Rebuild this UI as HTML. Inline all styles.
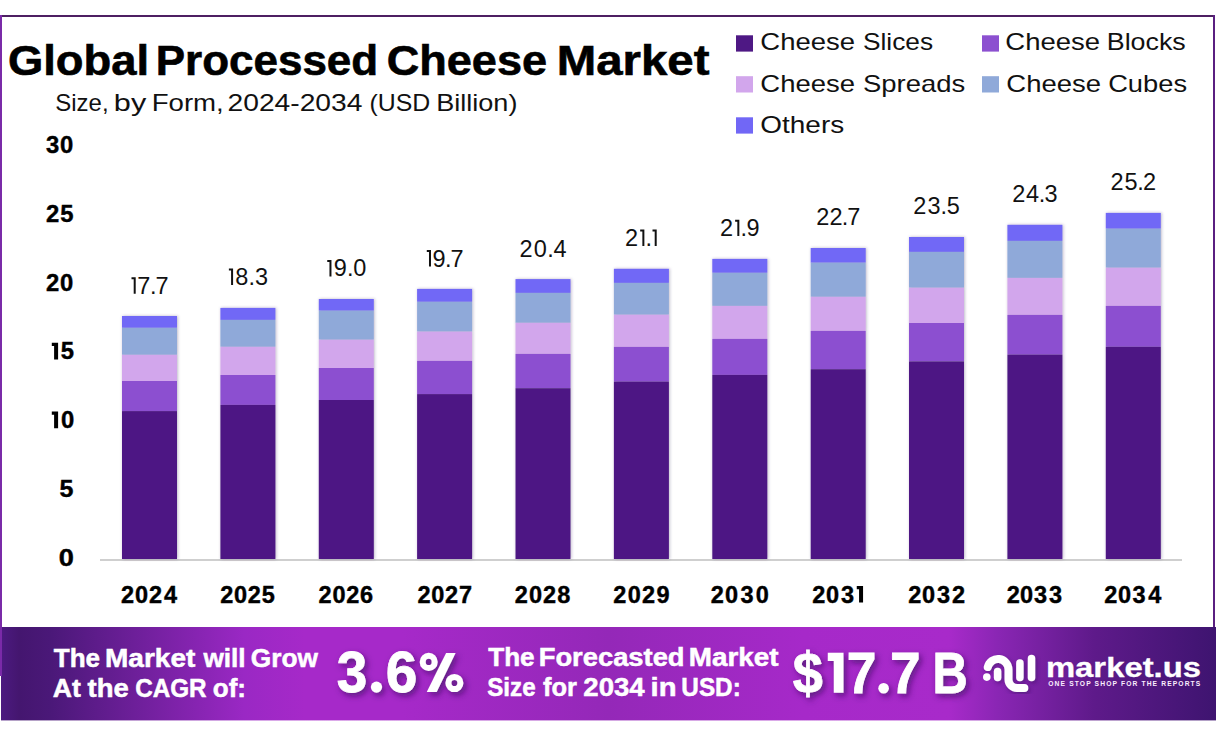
<!DOCTYPE html>
<html><head><meta charset="utf-8">
<style>
html,body{margin:0;padding:0;background:#fff;width:1216px;height:739px;overflow:hidden}
svg{display:block}
text{font-family:"Liberation Sans",sans-serif}
</style></head>
<body>
<svg width="1216" height="739" viewBox="0 0 1216 739">
<defs>
<linearGradient id="bg" x1="0" y1="0" x2="1" y2="0">
<stop offset="0" stop-color="#4c1a80"/>
<stop offset="0.015" stop-color="#44166f"/>
<stop offset="0.04" stop-color="#4a1878"/>
<stop offset="0.2" stop-color="#9a28c4"/>
<stop offset="0.25" stop-color="#a629c9"/>
<stop offset="0.33" stop-color="#a629c9"/>
<stop offset="0.5" stop-color="#9428b8"/>
<stop offset="0.66" stop-color="#a629c9"/>
<stop offset="0.78" stop-color="#a82aca"/>
<stop offset="0.82" stop-color="#8a26b4"/>
<stop offset="0.9" stop-color="#5e1a8a"/>
<stop offset="1" stop-color="#3e1470"/>
</linearGradient>
<filter id="sh" x="-5%" y="-20%" width="110%" height="150%">
<feDropShadow dx="2.5" dy="3" stdDeviation="3" flood-color="#3a0860" flood-opacity="0.7"/>
</filter>
<filter id="bsh" x="-20%" y="-5%" width="140%" height="110%">
<feDropShadow dx="0.8" dy="0" stdDeviation="1.8" flood-color="#3a2a60" flood-opacity="0.35"/>
</filter>
<filter id="sh2" x="-20%" y="-20%" width="140%" height="140%">
<feDropShadow dx="1.5" dy="2" stdDeviation="2" flood-color="#300858" flood-opacity="0.5"/>
</filter>
</defs>
<rect x="0" y="0" width="1216" height="739" fill="#ffffff"/>
<rect x="0" y="15" width="1215" height="2" fill="#4d1f62"/>
<rect x="0" y="15" width="2" height="661" fill="#7a2aa8"/>
<rect x="1213" y="15" width="2" height="612" fill="#5a1f80"/>
<rect x="100" y="559" width="1082" height="2" fill="#cfcfcf"/>
<rect x="1" y="627" width="1215" height="93.4" fill="url(#bg)"/>
<rect x="0" y="627" width="2" height="49" fill="#7a2aa8"/>
<rect x="736" y="35.3" width="17" height="16.3" fill="#4e1884"/>
<rect x="982" y="35.3" width="17" height="16.3" fill="#8c50d0"/>
<rect x="736" y="76.2" width="17" height="16.3" fill="#d2a6ec"/>
<rect x="982" y="76.2" width="17" height="16.3" fill="#8fa9d9"/>
<rect x="736" y="117.3" width="17" height="16.3" fill="#7167f6"/>
<g filter="url(#bsh)">
<rect x="122.0" y="316.0" width="55.0" height="11.8" fill="#7167f6"/>
<rect x="122.0" y="327.8" width="55.0" height="27.0" fill="#8fa9d9"/>
<rect x="122.0" y="354.8" width="55.0" height="26.2" fill="#d2a6ec"/>
<rect x="122.0" y="381.0" width="55.0" height="30.1" fill="#8c50d0"/>
<rect x="122.0" y="411.1" width="55.0" height="147.9" fill="#4e1884"/>
<rect x="220.4" y="307.9" width="55.0" height="12.0" fill="#7167f6"/>
<rect x="220.4" y="319.9" width="55.0" height="26.9" fill="#8fa9d9"/>
<rect x="220.4" y="346.8" width="55.0" height="28.2" fill="#d2a6ec"/>
<rect x="220.4" y="375.0" width="55.0" height="29.9" fill="#8c50d0"/>
<rect x="220.4" y="404.9" width="55.0" height="154.1" fill="#4e1884"/>
<rect x="318.8" y="299.0" width="55.0" height="11.7" fill="#7167f6"/>
<rect x="318.8" y="310.7" width="55.0" height="29.0" fill="#8fa9d9"/>
<rect x="318.8" y="339.7" width="55.0" height="28.3" fill="#d2a6ec"/>
<rect x="318.8" y="368.0" width="55.0" height="32.0" fill="#8c50d0"/>
<rect x="318.8" y="400.0" width="55.0" height="159.0" fill="#4e1884"/>
<rect x="417.1" y="288.9" width="55.0" height="12.9" fill="#7167f6"/>
<rect x="417.1" y="301.8" width="55.0" height="29.8" fill="#8fa9d9"/>
<rect x="417.1" y="331.6" width="55.0" height="29.3" fill="#d2a6ec"/>
<rect x="417.1" y="360.9" width="55.0" height="33.2" fill="#8c50d0"/>
<rect x="417.1" y="394.1" width="55.0" height="164.9" fill="#4e1884"/>
<rect x="515.5" y="279.1" width="55.0" height="13.8" fill="#7167f6"/>
<rect x="515.5" y="292.9" width="55.0" height="29.9" fill="#8fa9d9"/>
<rect x="515.5" y="322.8" width="55.0" height="31.1" fill="#d2a6ec"/>
<rect x="515.5" y="353.9" width="55.0" height="34.3" fill="#8c50d0"/>
<rect x="515.5" y="388.2" width="55.0" height="170.8" fill="#4e1884"/>
<rect x="613.9" y="268.8" width="55.0" height="14.1" fill="#7167f6"/>
<rect x="613.9" y="282.9" width="55.0" height="31.8" fill="#8fa9d9"/>
<rect x="613.9" y="314.7" width="55.0" height="32.2" fill="#d2a6ec"/>
<rect x="613.9" y="346.9" width="55.0" height="34.7" fill="#8c50d0"/>
<rect x="613.9" y="381.6" width="55.0" height="177.4" fill="#4e1884"/>
<rect x="712.3" y="258.9" width="55.0" height="13.9" fill="#7167f6"/>
<rect x="712.3" y="272.8" width="55.0" height="33.1" fill="#8fa9d9"/>
<rect x="712.3" y="305.9" width="55.0" height="33.0" fill="#d2a6ec"/>
<rect x="712.3" y="338.9" width="55.0" height="36.0" fill="#8c50d0"/>
<rect x="712.3" y="374.9" width="55.0" height="184.1" fill="#4e1884"/>
<rect x="810.7" y="248.0" width="55.0" height="14.7" fill="#7167f6"/>
<rect x="810.7" y="262.7" width="55.0" height="34.1" fill="#8fa9d9"/>
<rect x="810.7" y="296.8" width="55.0" height="34.1" fill="#d2a6ec"/>
<rect x="810.7" y="330.9" width="55.0" height="38.3" fill="#8c50d0"/>
<rect x="810.7" y="369.2" width="55.0" height="189.8" fill="#4e1884"/>
<rect x="909.0" y="237.0" width="55.0" height="14.9" fill="#7167f6"/>
<rect x="909.0" y="251.9" width="55.0" height="35.8" fill="#8fa9d9"/>
<rect x="909.0" y="287.7" width="55.0" height="35.3" fill="#d2a6ec"/>
<rect x="909.0" y="323.0" width="55.0" height="38.4" fill="#8c50d0"/>
<rect x="909.0" y="361.4" width="55.0" height="197.6" fill="#4e1884"/>
<rect x="1007.4" y="224.8" width="55.0" height="16.1" fill="#7167f6"/>
<rect x="1007.4" y="240.9" width="55.0" height="37.0" fill="#8fa9d9"/>
<rect x="1007.4" y="277.9" width="55.0" height="37.0" fill="#d2a6ec"/>
<rect x="1007.4" y="314.9" width="55.0" height="39.7" fill="#8c50d0"/>
<rect x="1007.4" y="354.6" width="55.0" height="204.4" fill="#4e1884"/>
<rect x="1105.8" y="212.9" width="55.0" height="15.8" fill="#7167f6"/>
<rect x="1105.8" y="228.7" width="55.0" height="39.0" fill="#8fa9d9"/>
<rect x="1105.8" y="267.7" width="55.0" height="38.2" fill="#d2a6ec"/>
<rect x="1105.8" y="305.9" width="55.0" height="40.9" fill="#8c50d0"/>
<rect x="1105.8" y="346.8" width="55.0" height="212.2" fill="#4e1884"/>
</g>
<g fill="none" stroke="#fff" stroke-linecap="round" stroke-width="7.5" filter="url(#sh2)">
<path d="M987.8 667 A10.5 10.5 0 0 1 1008.5 669.5 L1008.5 679.5 A8.5 8.5 0 0 0 1017 688 L1024.3 688" stroke-width="8"/>
<line x1="997.6" y1="671.5" x2="997.6" y2="677.5"/>
<line x1="1019.9" y1="663" x2="1019.9" y2="677.5"/>
<line x1="1031.5" y1="658.5" x2="1031.5" y2="677.5"/>
</g>
<circle cx="986.8" cy="677.1" r="3.8" fill="#fff"/>
<text x="1048.3" y="686.4" font-size="6.7" font-weight="bold" fill="#fbeefe" textLength="152" lengthAdjust="spacing">ONE STOP SHOP FOR THE REPORTS</text>
<text x="7.92" y="75.1" font-size="42" font-weight="bold" fill="#000" stroke="#000" stroke-width="0.6" textLength="141.18" lengthAdjust="spacingAndGlyphs">Global</text>
<text x="155.71" y="75.1" font-size="42" font-weight="bold" fill="#000" stroke="#000" stroke-width="0.6" textLength="222.48" lengthAdjust="spacingAndGlyphs">Processed</text>
<text x="386.73" y="75.1" font-size="42" font-weight="bold" fill="#000" stroke="#000" stroke-width="0.6" textLength="160.30" lengthAdjust="spacingAndGlyphs">Cheese</text>
<text x="556.74" y="75.1" font-size="42" font-weight="bold" fill="#000" stroke="#000" stroke-width="0.6" textLength="152.71" lengthAdjust="spacingAndGlyphs">Market</text>
<text x="55.31" y="110.8" font-size="24.3" font-weight="normal" fill="#111" textLength="53.27" lengthAdjust="spacingAndGlyphs">Size,</text>
<text x="113.88" y="110.8" font-size="24.3" font-weight="normal" fill="#111" textLength="32.37" lengthAdjust="spacingAndGlyphs">by</text>
<text x="151.73" y="110.8" font-size="24.3" font-weight="normal" fill="#111" textLength="72.04" lengthAdjust="spacingAndGlyphs">Form,</text>
<text x="227.54" y="110.8" font-size="24.3" font-weight="normal" fill="#111" textLength="134.90" lengthAdjust="spacingAndGlyphs">2024-2034</text>
<text x="369.45" y="110.8" font-size="24.3" font-weight="normal" fill="#111" textLength="60.77" lengthAdjust="spacingAndGlyphs">(USD</text>
<text x="436.17" y="110.8" font-size="24.3" font-weight="normal" fill="#111" textLength="81.27" lengthAdjust="spacingAndGlyphs">Billion)</text>
<text x="760.36" y="50" font-size="24" font-weight="normal" fill="#111" textLength="94.68" lengthAdjust="spacingAndGlyphs">Cheese</text>
<text x="863.00" y="50" font-size="24" font-weight="normal" fill="#111" textLength="70.12" lengthAdjust="spacingAndGlyphs">Slices</text>
<text x="1005.36" y="50" font-size="24" font-weight="normal" fill="#111" textLength="94.68" lengthAdjust="spacingAndGlyphs">Cheese</text>
<text x="1106.76" y="50" font-size="24" font-weight="normal" fill="#111" textLength="79.00" lengthAdjust="spacingAndGlyphs">Blocks</text>
<text x="760.36" y="91.6" font-size="24" font-weight="normal" fill="#111" textLength="94.68" lengthAdjust="spacingAndGlyphs">Cheese</text>
<text x="862.96" y="91.6" font-size="24" font-weight="normal" fill="#111" textLength="102.19" lengthAdjust="spacingAndGlyphs">Spreads</text>
<text x="1006.36" y="91.6" font-size="24" font-weight="normal" fill="#111" textLength="94.68" lengthAdjust="spacingAndGlyphs">Cheese</text>
<text x="1108.16" y="91.6" font-size="24" font-weight="normal" fill="#111" textLength="78.86" lengthAdjust="spacingAndGlyphs">Cubes</text>
<text x="760.34" y="132.5" font-size="24" font-weight="normal" fill="#111" textLength="83.86" lengthAdjust="spacingAndGlyphs">Others</text>
<text x="58.86" y="565.9" font-size="23.8" font-weight="bold" fill="#000" stroke="#000" stroke-width="0.4" textLength="15.13" lengthAdjust="spacingAndGlyphs">0</text>
<text x="59.45" y="497.07" font-size="23.8" font-weight="bold" fill="#000" stroke="#000" stroke-width="0.4" textLength="13.91" lengthAdjust="spacingAndGlyphs">5</text>
<path d="M51.80 411.54H58.10V428.24H54.10V414.84H51.80Z" fill="#000"/>
<text x="60.90" y="428.24" font-size="23.8" font-weight="bold" fill="#000" stroke="#000" stroke-width="0.4">0</text>
<path d="M51.80 342.71H58.10V359.41H54.10V346.01H51.80Z" fill="#000"/>
<text x="60.70" y="359.40999999999997" font-size="23.8" font-weight="bold" fill="#000" stroke="#000" stroke-width="0.4">5</text>
<text x="45.90" y="290.58" font-size="23.8" font-weight="bold" fill="#000" stroke="#000" stroke-width="0.4">2</text>
<text x="59.90" y="290.58" font-size="23.8" font-weight="bold" fill="#000" stroke="#000" stroke-width="0.4">0</text>
<text x="45.90" y="221.75000000000003" font-size="23.8" font-weight="bold" fill="#000" stroke="#000" stroke-width="0.4">2</text>
<text x="60.30" y="221.75000000000003" font-size="23.8" font-weight="bold" fill="#000" stroke="#000" stroke-width="0.4">5</text>
<text x="46.10" y="152.92" font-size="23.8" font-weight="bold" fill="#000" stroke="#000" stroke-width="0.4">3</text>
<text x="59.90" y="152.92" font-size="23.8" font-weight="bold" fill="#000" stroke="#000" stroke-width="0.4">0</text>
<text x="121.00" y="602.6" font-size="23.5" font-weight="bold" fill="#000" stroke="#000" stroke-width="0.4">2</text>
<text x="135.00" y="602.6" font-size="23.5" font-weight="bold" fill="#000" stroke="#000" stroke-width="0.4">0</text>
<text x="149.00" y="602.6" font-size="23.5" font-weight="bold" fill="#000" stroke="#000" stroke-width="0.4">2</text>
<text x="164.00" y="602.6" font-size="23.5" font-weight="bold" fill="#000" stroke="#000" stroke-width="0.4">4</text>
<path d="M131.50 277.30H135.70V293.70H133.70V279.30H131.50Z" fill="#111"/>
<text x="137.30" y="293.7" font-size="23.5" font-weight="normal" fill="#111">7</text>
<text x="149.90" y="293.7" font-size="23.5" font-weight="normal" fill="#111">.</text>
<text x="155.50" y="293.7" font-size="23.5" font-weight="normal" fill="#111">7</text>
<text x="220.13" y="602.6" font-size="23.5" font-weight="bold" fill="#000" stroke="#000" stroke-width="0.4">2</text>
<text x="233.96" y="602.6" font-size="23.5" font-weight="bold" fill="#000" stroke="#000" stroke-width="0.4">0</text>
<text x="247.80" y="602.6" font-size="23.5" font-weight="bold" fill="#000" stroke="#000" stroke-width="0.4">2</text>
<text x="261.63" y="602.6" font-size="23.5" font-weight="bold" fill="#000" stroke="#000" stroke-width="0.4">5</text>
<path d="M228.88 268.50H233.08V284.90H231.08V270.50H228.88Z" fill="#111"/>
<text x="235.35" y="284.9" font-size="23.5" font-weight="normal" fill="#111">8</text>
<text x="248.61" y="284.9" font-size="23.5" font-weight="normal" fill="#111">.</text>
<text x="254.88" y="284.9" font-size="23.5" font-weight="normal" fill="#111">3</text>
<text x="318.61" y="602.6" font-size="23.5" font-weight="bold" fill="#000" stroke="#000" stroke-width="0.4">2</text>
<text x="332.38" y="602.6" font-size="23.5" font-weight="bold" fill="#000" stroke="#000" stroke-width="0.4">0</text>
<text x="346.14" y="602.6" font-size="23.5" font-weight="bold" fill="#000" stroke="#000" stroke-width="0.4">2</text>
<text x="359.91" y="602.6" font-size="23.5" font-weight="bold" fill="#000" stroke="#000" stroke-width="0.4">6</text>
<path d="M327.26 260.00H331.46V276.40H329.46V262.00H327.26Z" fill="#111"/>
<text x="333.73" y="276.4" font-size="23.5" font-weight="normal" fill="#111">9</text>
<text x="346.99" y="276.4" font-size="23.5" font-weight="normal" fill="#111">.</text>
<text x="353.26" y="276.4" font-size="23.5" font-weight="normal" fill="#111">0</text>
<text x="417.39" y="602.6" font-size="23.5" font-weight="bold" fill="#000" stroke="#000" stroke-width="0.4">2</text>
<text x="431.22" y="602.6" font-size="23.5" font-weight="bold" fill="#000" stroke="#000" stroke-width="0.4">0</text>
<text x="445.06" y="602.6" font-size="23.5" font-weight="bold" fill="#000" stroke="#000" stroke-width="0.4">2</text>
<text x="458.89" y="602.6" font-size="23.5" font-weight="bold" fill="#000" stroke="#000" stroke-width="0.4">7</text>
<path d="M426.79 250.10H430.99V266.50H428.99V252.10H426.79Z" fill="#111"/>
<text x="432.49" y="266.5" font-size="23.5" font-weight="normal" fill="#111">9</text>
<text x="444.99" y="266.5" font-size="23.5" font-weight="normal" fill="#111">.</text>
<text x="450.49" y="266.5" font-size="23.5" font-weight="normal" fill="#111">7</text>
<text x="514.87" y="602.6" font-size="23.5" font-weight="bold" fill="#000" stroke="#000" stroke-width="0.4">2</text>
<text x="528.97" y="602.6" font-size="23.5" font-weight="bold" fill="#000" stroke="#000" stroke-width="0.4">0</text>
<text x="543.07" y="602.6" font-size="23.5" font-weight="bold" fill="#000" stroke="#000" stroke-width="0.4">2</text>
<text x="557.17" y="602.6" font-size="23.5" font-weight="bold" fill="#000" stroke="#000" stroke-width="0.4">8</text>
<text x="519.57" y="256.8" font-size="23.5" font-weight="normal" fill="#111">2</text>
<text x="533.87" y="256.8" font-size="23.5" font-weight="normal" fill="#111">0</text>
<text x="547.17" y="256.8" font-size="23.5" font-weight="normal" fill="#111">.</text>
<text x="553.47" y="256.8" font-size="23.5" font-weight="normal" fill="#111">4</text>
<text x="613.25" y="602.6" font-size="23.5" font-weight="bold" fill="#000" stroke="#000" stroke-width="0.4">2</text>
<text x="627.68" y="602.6" font-size="23.5" font-weight="bold" fill="#000" stroke="#000" stroke-width="0.4">0</text>
<text x="642.12" y="602.6" font-size="23.5" font-weight="bold" fill="#000" stroke="#000" stroke-width="0.4">2</text>
<text x="656.55" y="602.6" font-size="23.5" font-weight="bold" fill="#000" stroke="#000" stroke-width="0.4">9</text>
<text x="625.10" y="246" font-size="23.5" font-weight="normal" fill="#111">2</text>
<path d="M640.17 229.60H644.37V246.00H642.37V231.60H640.17Z" fill="#111"/>
<text x="645.43" y="246" font-size="23.5" font-weight="normal" fill="#111">.</text>
<path d="M652.50 229.60H656.70V246.00H654.70V231.60H652.50Z" fill="#111"/>
<text x="710.78" y="602.6" font-size="23.5" font-weight="bold" fill="#000" stroke="#000" stroke-width="0.4">2</text>
<text x="725.11" y="602.6" font-size="23.5" font-weight="bold" fill="#000" stroke="#000" stroke-width="0.4">0</text>
<text x="740.45" y="602.6" font-size="23.5" font-weight="bold" fill="#000" stroke="#000" stroke-width="0.4">3</text>
<text x="755.78" y="602.6" font-size="23.5" font-weight="bold" fill="#000" stroke="#000" stroke-width="0.4">0</text>
<text x="720.03" y="236.1" font-size="23.5" font-weight="normal" fill="#111">2</text>
<path d="M735.13 219.70H739.33V236.10H737.33V221.70H735.13Z" fill="#111"/>
<text x="740.43" y="236.1" font-size="23.5" font-weight="normal" fill="#111">.</text>
<text x="746.53" y="236.1" font-size="23.5" font-weight="normal" fill="#111">9</text>
<text x="812.26" y="602.6" font-size="23.5" font-weight="bold" fill="#000" stroke="#000" stroke-width="0.4">2</text>
<text x="826.09" y="602.6" font-size="23.5" font-weight="bold" fill="#000" stroke="#000" stroke-width="0.4">0</text>
<text x="840.93" y="602.6" font-size="23.5" font-weight="bold" fill="#000" stroke="#000" stroke-width="0.4">3</text>
<path d="M856.76 585.90H863.06V602.60H859.06V589.20H856.76Z" fill="#000"/>
<text x="816.16" y="224.8" font-size="23.5" font-weight="normal" fill="#111">2</text>
<text x="829.49" y="224.8" font-size="23.5" font-weight="normal" fill="#111">2</text>
<text x="841.83" y="224.8" font-size="23.5" font-weight="normal" fill="#111">.</text>
<text x="847.16" y="224.8" font-size="23.5" font-weight="normal" fill="#111">7</text>
<text x="908.14" y="602.6" font-size="23.5" font-weight="bold" fill="#000" stroke="#000" stroke-width="0.4">2</text>
<text x="922.07" y="602.6" font-size="23.5" font-weight="bold" fill="#000" stroke="#000" stroke-width="0.4">0</text>
<text x="937.01" y="602.6" font-size="23.5" font-weight="bold" fill="#000" stroke="#000" stroke-width="0.4">3</text>
<text x="951.94" y="602.6" font-size="23.5" font-weight="bold" fill="#000" stroke="#000" stroke-width="0.4">2</text>
<text x="913.34" y="213.8" font-size="23.5" font-weight="normal" fill="#111">2</text>
<text x="927.47" y="213.8" font-size="23.5" font-weight="normal" fill="#111">3</text>
<text x="940.61" y="213.8" font-size="23.5" font-weight="normal" fill="#111">.</text>
<text x="946.74" y="213.8" font-size="23.5" font-weight="normal" fill="#111">5</text>
<text x="1006.82" y="602.6" font-size="23.5" font-weight="bold" fill="#000" stroke="#000" stroke-width="0.4">2</text>
<text x="1019.89" y="602.6" font-size="23.5" font-weight="bold" fill="#000" stroke="#000" stroke-width="0.4">0</text>
<text x="1033.95" y="602.6" font-size="23.5" font-weight="bold" fill="#000" stroke="#000" stroke-width="0.4">3</text>
<text x="1049.02" y="602.6" font-size="23.5" font-weight="bold" fill="#000" stroke="#000" stroke-width="0.4">3</text>
<text x="1012.27" y="201.8" font-size="23.5" font-weight="normal" fill="#111">2</text>
<text x="1026.04" y="201.8" font-size="23.5" font-weight="normal" fill="#111">4</text>
<text x="1038.80" y="201.8" font-size="23.5" font-weight="normal" fill="#111">.</text>
<text x="1044.57" y="201.8" font-size="23.5" font-weight="normal" fill="#111">3</text>
<text x="1104.35" y="602.6" font-size="23.5" font-weight="bold" fill="#000" stroke="#000" stroke-width="0.4">2</text>
<text x="1117.98" y="602.6" font-size="23.5" font-weight="bold" fill="#000" stroke="#000" stroke-width="0.4">0</text>
<text x="1132.62" y="602.6" font-size="23.5" font-weight="bold" fill="#000" stroke="#000" stroke-width="0.4">3</text>
<text x="1148.25" y="602.6" font-size="23.5" font-weight="bold" fill="#000" stroke="#000" stroke-width="0.4">4</text>
<text x="1110.55" y="190" font-size="23.5" font-weight="normal" fill="#111">2</text>
<text x="1124.38" y="190" font-size="23.5" font-weight="normal" fill="#111">5</text>
<text x="1137.22" y="190" font-size="23.5" font-weight="normal" fill="#111">.</text>
<text x="1143.05" y="190" font-size="23.5" font-weight="normal" fill="#111">2</text>
<text x="53.80" y="666.5" font-size="25.6" font-weight="bold" fill="#ffffff" stroke="#ffffff" stroke-width="0.5" textLength="46.32" lengthAdjust="spacingAndGlyphs">The</text>
<text x="105.00" y="666.5" font-size="25.6" font-weight="bold" fill="#ffffff" stroke="#ffffff" stroke-width="0.5" textLength="90.36" lengthAdjust="spacingAndGlyphs">Market</text>
<text x="203.40" y="666.5" font-size="25.6" font-weight="bold" fill="#ffffff" stroke="#ffffff" stroke-width="0.5" textLength="42.18" lengthAdjust="spacingAndGlyphs">will</text>
<text x="250.77" y="666.5" font-size="25.6" font-weight="bold" fill="#ffffff" stroke="#ffffff" stroke-width="0.5" textLength="67.13" lengthAdjust="spacingAndGlyphs">Grow</text>
<text x="52.76" y="696.7" font-size="25.6" font-weight="bold" fill="#ffffff" stroke="#ffffff" stroke-width="0.5" textLength="28.05" lengthAdjust="spacingAndGlyphs">At</text>
<text x="87.60" y="696.7" font-size="25.6" font-weight="bold" fill="#ffffff" stroke="#ffffff" stroke-width="0.5" textLength="41.22" lengthAdjust="spacingAndGlyphs">the</text>
<text x="135.15" y="696.7" font-size="25.6" font-weight="bold" fill="#ffffff" stroke="#ffffff" stroke-width="0.5" textLength="71.49" lengthAdjust="spacingAndGlyphs">CAGR</text>
<text x="212.78" y="696.7" font-size="25.6" font-weight="bold" fill="#ffffff" stroke="#ffffff" stroke-width="0.5" textLength="33.23" lengthAdjust="spacingAndGlyphs">of:</text>
<text x="488.20" y="666.3" font-size="25.6" font-weight="bold" fill="#ffffff" stroke="#ffffff" stroke-width="0.5" textLength="46.43" lengthAdjust="spacingAndGlyphs">The</text>
<text x="538.73" y="666.3" font-size="25.6" font-weight="bold" fill="#ffffff" stroke="#ffffff" stroke-width="0.5" textLength="145.84" lengthAdjust="spacingAndGlyphs">Forecasted</text>
<text x="688.81" y="666.3" font-size="25.6" font-weight="bold" fill="#ffffff" stroke="#ffffff" stroke-width="0.5" textLength="89.76" lengthAdjust="spacingAndGlyphs">Market</text>
<text x="487.26" y="695.6" font-size="25.6" font-weight="bold" fill="#ffffff" stroke="#ffffff" stroke-width="0.5" textLength="48.35" lengthAdjust="spacingAndGlyphs">Size</text>
<text x="543.00" y="695.6" font-size="25.6" font-weight="bold" fill="#ffffff" stroke="#ffffff" stroke-width="0.5" textLength="33.92" lengthAdjust="spacingAndGlyphs">for</text>
<text x="583.32" y="695.6" font-size="25.6" font-weight="bold" fill="#ffffff" stroke="#ffffff" stroke-width="0.5" textLength="61.31" lengthAdjust="spacingAndGlyphs">2034</text>
<text x="650.62" y="695.6" font-size="25.6" font-weight="bold" fill="#ffffff" stroke="#ffffff" stroke-width="0.5" textLength="25.98" lengthAdjust="spacingAndGlyphs">in</text>
<text x="681.35" y="695.6" font-size="25.6" font-weight="bold" fill="#ffffff" stroke="#ffffff" stroke-width="0.5" textLength="59.38" lengthAdjust="spacingAndGlyphs">USD:</text>
<text x="1045.91" y="676.7" font-size="27.5" font-weight="bold" fill="#ffffff" stroke="#ffffff" stroke-width="0.3" textLength="155.11" lengthAdjust="spacingAndGlyphs">market.us</text>
<g filter="url(#sh)">
<text x="336.84" y="691.7" font-size="57" font-weight="bold" fill="#ffffff" stroke="#ffffff" stroke-width="0.8" textLength="30.50" lengthAdjust="spacingAndGlyphs">3</text>
<text x="385.71" y="691.7" font-size="57" font-weight="bold" fill="#ffffff" stroke="#ffffff" stroke-width="0.8" textLength="31.59" lengthAdjust="spacingAndGlyphs">6</text>
<text x="792.80" y="692.9" font-size="57.7" font-weight="bold" fill="#ffffff" stroke="#ffffff" stroke-width="0.8" textLength="30.09" lengthAdjust="spacingAndGlyphs">$</text>
<text x="846.85" y="692.9" font-size="57.7" font-weight="bold" fill="#ffffff" stroke="#ffffff" stroke-width="0.8" textLength="29.69" lengthAdjust="spacingAndGlyphs">7</text>
<text x="889.89" y="692.9" font-size="57.7" font-weight="bold" fill="#ffffff" stroke="#ffffff" stroke-width="0.8" textLength="30.60" lengthAdjust="spacingAndGlyphs">7</text>
<text x="932.47" y="692.9" font-size="57.7" font-weight="bold" fill="#ffffff" stroke="#ffffff" stroke-width="0.8" textLength="35.19" lengthAdjust="spacingAndGlyphs">B</text>
<circle cx="376.5" cy="687.1" r="5.6" fill="#fff"/>
<ellipse cx="428.7" cy="661.9" rx="6" ry="6.2" fill="none" stroke="#fff" stroke-width="6"/>
<ellipse cx="454.4" cy="683" rx="6" ry="6.1" fill="none" stroke="#fff" stroke-width="6"/>
<path d="M426.8 692 L436.7 692 L455.6 653.1 L446.1 653.1 Z" fill="#fff"/>
<circle cx="883.6" cy="688.2" r="5.3" fill="#fff"/>
<path d="M827.8 652.8 H843.5 V692.8 H833.8 V661 H827.8 Z" fill="#fff"/>
</g>
</svg>
</body></html>
